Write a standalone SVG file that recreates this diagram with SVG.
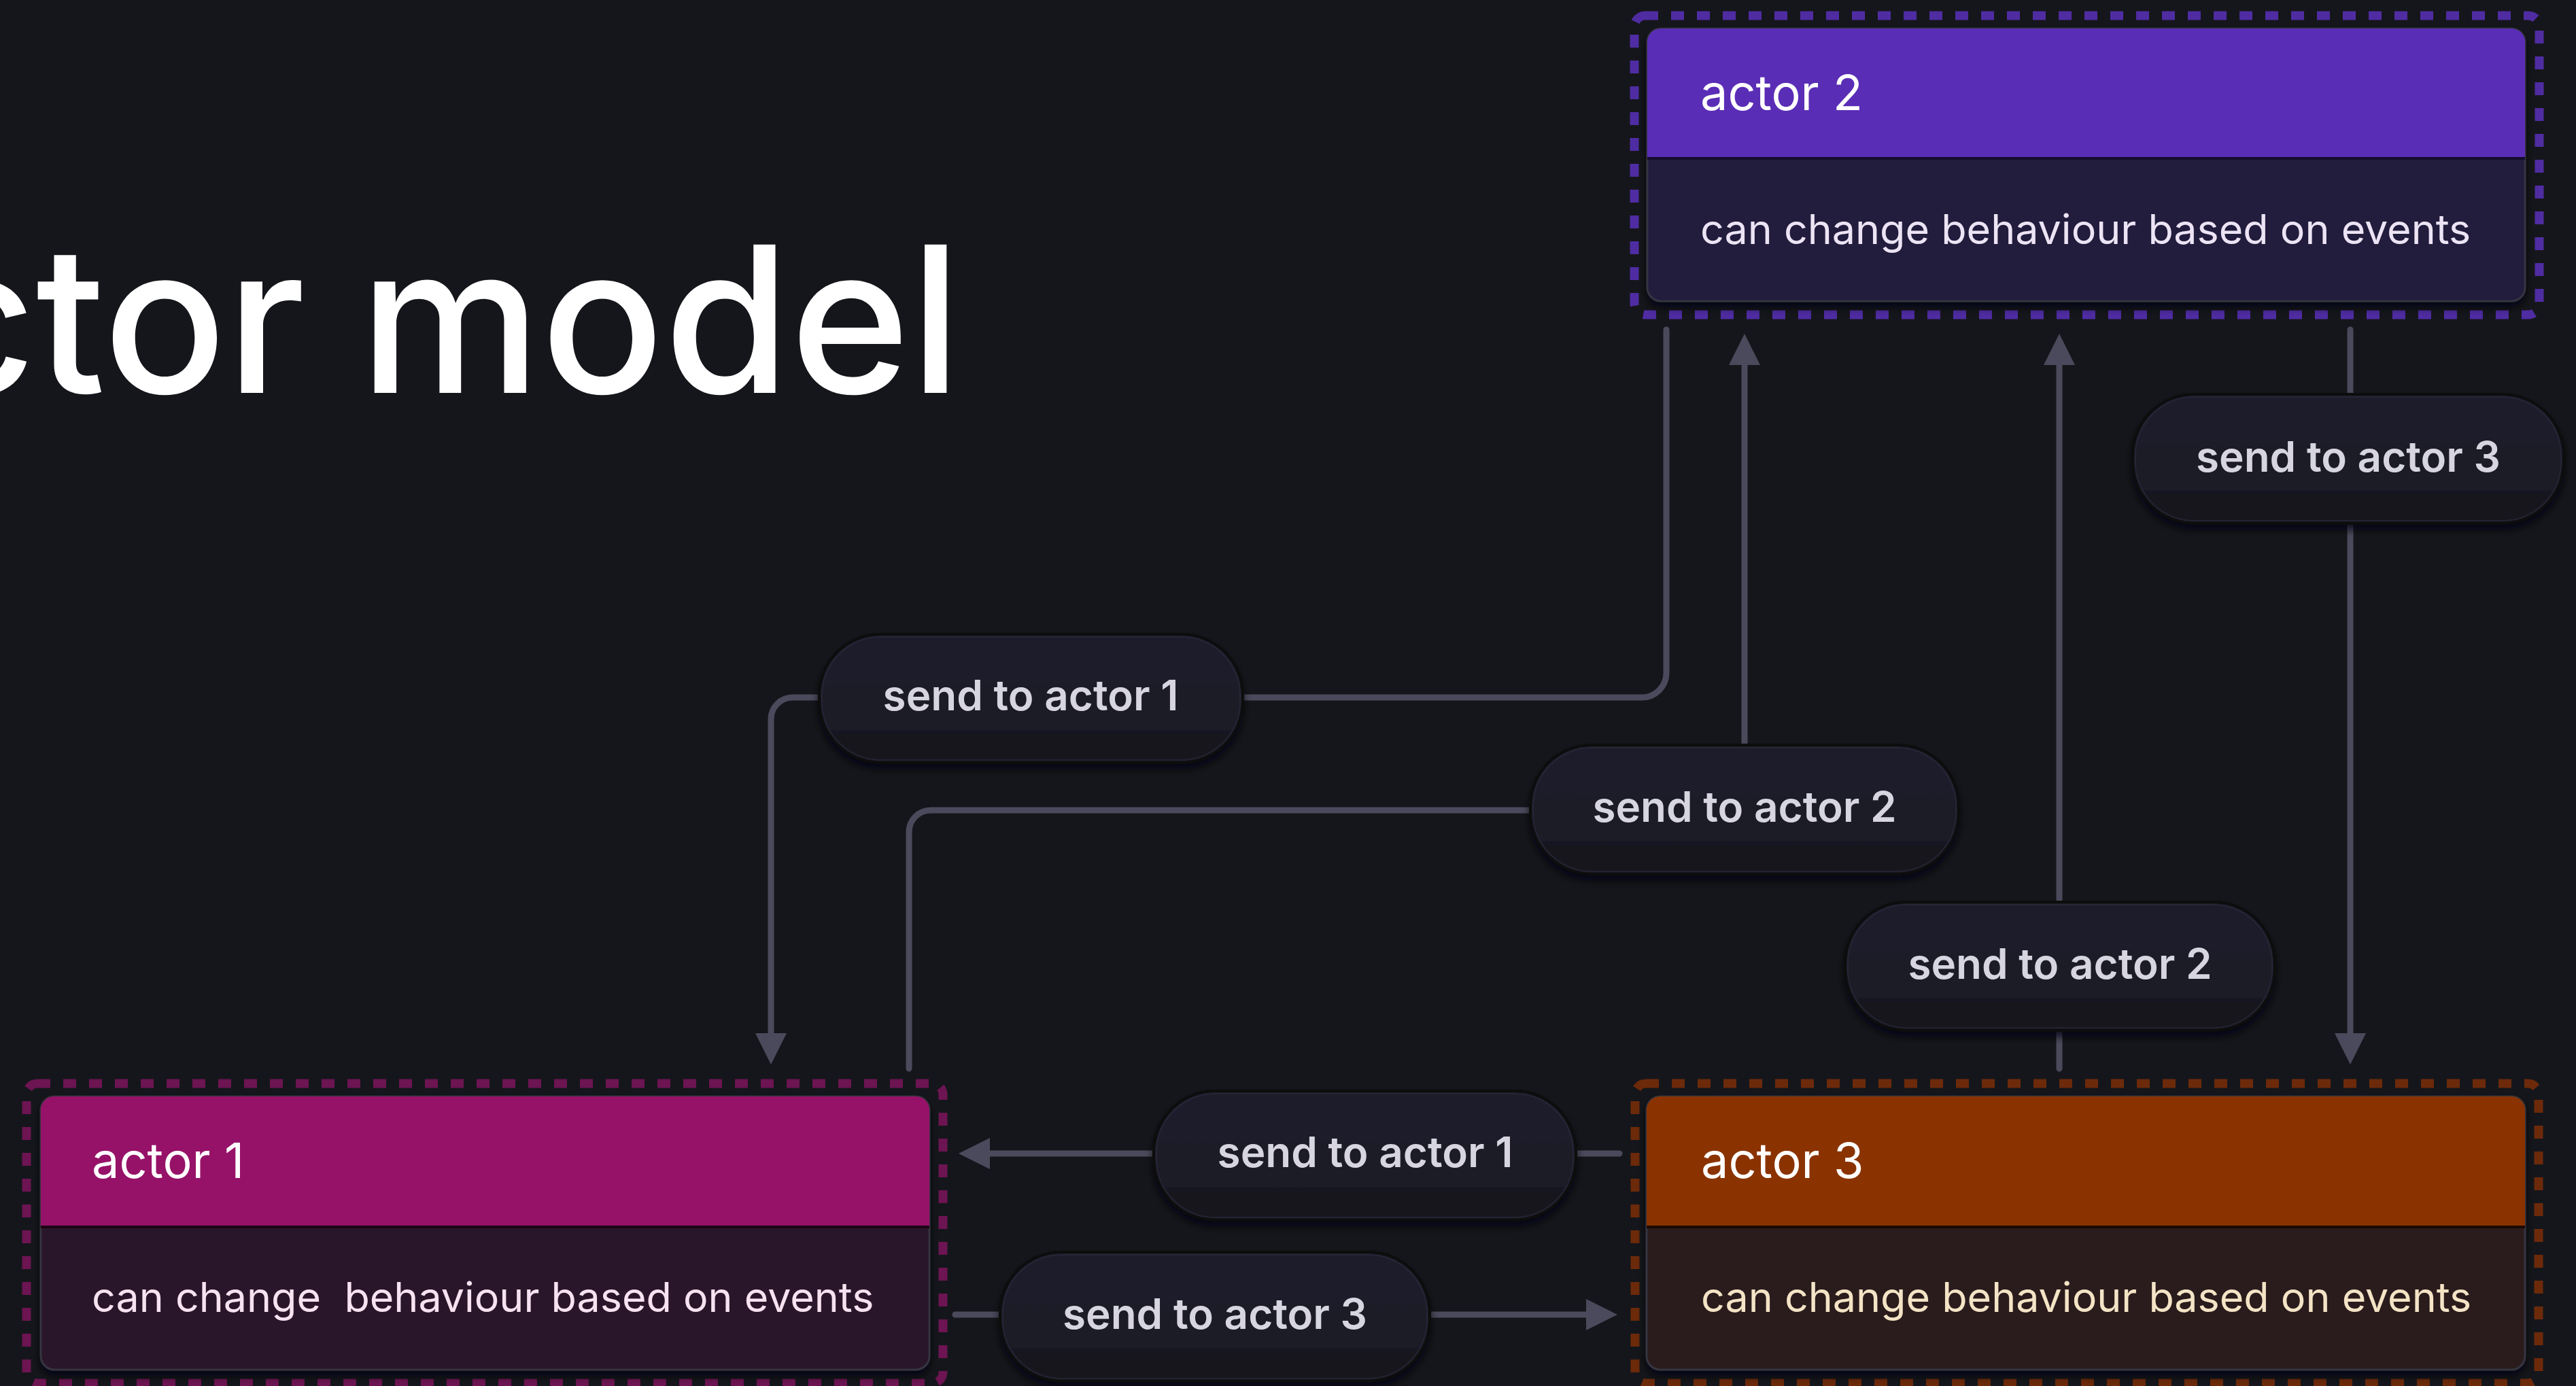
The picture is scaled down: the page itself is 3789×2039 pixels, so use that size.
<svg xmlns="http://www.w3.org/2000/svg" width="3789" height="2039" viewBox="0 0 3789 2039">
  <defs>
    <style>
      text { font-family: Inter, "Liberation Sans", sans-serif; }
      .title { font-size: 300px; font-weight: 500; fill: #ffffff; }
      .hdr { font-size: 72px; font-weight: 400; fill: #ffffff; }
      .desc { font-size: 61px; font-weight: 400; white-space: pre; }
      .pill rect.shape { fill: url(#pillGrad); stroke: #0c0c11; stroke-width: 4; }
      .pill rect.hl { fill: none; stroke: #2b2a39; stroke-width: 2; opacity: 0.7; }
      .pill text { font-size: 62px; font-weight: 600; fill: #d6d5e0; text-anchor: middle; }
      .edge { fill: none; stroke: #4b4a5c; stroke-width: 9; stroke-linecap: round; }
      .frame { fill: none; stroke-width: 13; stroke-dasharray: 19 19; }
      .card { stroke: #35343f; stroke-width: 3; }
    </style>
    <linearGradient id="pillGrad" x1="0" y1="0" x2="0" y2="1">
      <stop offset="0" stop-color="#1d1c2c"/>
      <stop offset="0.74" stop-color="#1a1a26"/>
      <stop offset="0.78" stop-color="#17171f"/>
      <stop offset="1" stop-color="#16161c"/>
    </linearGradient>
    <marker id="arrow" markerUnits="userSpaceOnUse" markerWidth="46" markerHeight="46" viewBox="0 0 46 46" refX="1" refY="23" orient="auto">
      <path d="M0 0 L46 23 L0 46 Z" fill="#4b4a5c"/>
    </marker>
    <filter id="shadow" x="-10%" y="-20%" width="120%" height="150%">
      <feDropShadow dx="0" dy="8" stdDeviation="6" flood-color="#050508" flood-opacity="0.75"/>
    </filter>
  </defs>

  <!-- canvas -->
  <rect x="0" y="0" width="3789" height="2039" fill="#15161b"/>

  <!-- heading -->
  <text class="title" x="1414" y="578" text-anchor="end">ctor model</text>

  <!-- connectors -->
  <g id="connectors">
    <!-- actor 2 -> send to actor 1 -> actor 1 -->
    <path class="edge" d="M2451 485 V990 A36 36 0 0 1 2415 1026 H1828"/>
    <path class="edge" d="M1205 1026 H1166 A32 32 0 0 0 1134 1058 V1521" marker-end="url(#arrow)"/>
    <!-- actor 1 -> send to actor 2 -> actor 2 -->
    <path class="edge" d="M1337 1572 V1224 A32 32 0 0 1 1369 1192 H2251"/>
    <path class="edge" d="M2566 1096 V536" marker-end="url(#arrow)"/>
    <!-- actor 3 -> send to actor 2 -> actor 2 -->
    <path class="edge" d="M3029 1572 V1515"/>
    <path class="edge" d="M3029 1327 V536" marker-end="url(#arrow)"/>
    <!-- actor 2 -> send to actor 3 -> actor 3 -->
    <path class="edge" d="M3457 485 V580"/>
    <path class="edge" d="M3457 770 V1521" marker-end="url(#arrow)"/>
    <!-- actor 3 -> send to actor 1 -> actor 1 -->
    <path class="edge" d="M2382 1697 H2318"/>
    <path class="edge" d="M1697 1697 H1455" marker-end="url(#arrow)"/>
    <!-- actor 1 -> send to actor 3 -> actor 3 -->
    <path class="edge" d="M1405 1934 H1471"/>
    <path class="edge" d="M2103 1934 H2334" marker-end="url(#arrow)"/>
  </g>

  <!-- actor 2 -->
  <g id="actor2">
    <rect class="frame" x="2404" y="23" width="1331" height="440" rx="16" stroke="#4f2ca2"/>
    <rect class="card" x="2423" y="42" width="1291" height="401" rx="20" fill="#221c3c" filter="url(#shadow)"/>
    <path d="M2423 232 V62 A20 20 0 0 1 2443 42 H3694 A20 20 0 0 1 3714 62 V232 Z" fill="#5a2db6"/>
    <rect x="2423" y="231" width="1291" height="4" fill="#140c2c"/>
    <text class="hdr" x="2501" y="162">actor 2</text>
    <text class="desc" x="2501" y="359" fill="#ece4f4">can change behaviour based on events</text>
  </g>

  <!-- actor 1 -->
  <g id="actor1">
    <rect class="frame" x="39" y="1594" width="1348" height="441" rx="16" stroke="#6d1452"/>
    <rect class="card" x="60" y="1613" width="1307" height="402" rx="20" fill="#2a1529" filter="url(#shadow)"/>
    <path d="M60 1804 V1633 A20 20 0 0 1 80 1613 H1347 A20 20 0 0 1 1367 1633 V1804 Z" fill="#961268"/>
    <rect x="60" y="1803" width="1307" height="4" fill="#1c0514"/>
    <text class="hdr" x="135" y="1733">actor 1</text>
    <text class="desc" x="135" y="1930" fill="#f6e2f0">can change  behaviour based on events</text>
  </g>

  <!-- actor 3 -->
  <g id="actor3">
    <rect class="frame" x="2405" y="1594" width="1329" height="441" rx="16" stroke="#6c2a0a"/>
    <rect class="card" x="2422" y="1613" width="1292" height="402" rx="20" fill="#2a1c1c" filter="url(#shadow)"/>
    <path d="M2422 1804 V1633 A20 20 0 0 1 2442 1613 H3694 A20 20 0 0 1 3714 1633 V1804 Z" fill="#8a3300"/>
    <rect x="2422" y="1803" width="1292" height="4" fill="#1c0900"/>
    <text class="hdr" x="2502" y="1733">actor 3</text>
    <text class="desc" x="2502" y="1930" fill="#f4e4c6">can change behaviour based on events</text>
  </g>

  <!-- message nodes -->
  <g id="msg-upper-actor1" class="pill" filter="url(#shadow)">
    <rect class="shape" x="1205" y="933" width="623" height="189" rx="90"/>
    <rect class="hl" x="1209" y="937" width="615" height="181" rx="86"/>
    <text x="1516" y="1045">send to actor 1</text>
  </g>
  <g id="msg-mid-actor2" class="pill" filter="url(#shadow)">
    <rect class="shape" x="2251" y="1096" width="630" height="190" rx="90"/>
    <rect class="hl" x="2255" y="1100" width="622" height="182" rx="86"/>
    <text x="2566" y="1209">send to actor 2</text>
  </g>
  <g id="msg-low-actor2" class="pill" filter="url(#shadow)">
    <rect class="shape" x="2714" y="1327" width="632" height="189" rx="90"/>
    <rect class="hl" x="2718" y="1331" width="624" height="181" rx="86"/>
    <text x="3030" y="1440">send to actor 2</text>
  </g>
  <g id="msg-upper-actor3" class="pill" filter="url(#shadow)">
    <rect class="shape" x="3137" y="580" width="634" height="190" rx="90"/>
    <rect class="hl" x="3141" y="584" width="626" height="182" rx="86"/>
    <text x="3454" y="694">send to actor 3</text>
  </g>
  <g id="msg-bottom-actor1" class="pill" filter="url(#shadow)">
    <rect class="shape" x="1697" y="1605" width="621" height="190" rx="90"/>
    <rect class="hl" x="1701" y="1609" width="613" height="182" rx="86"/>
    <text x="2008" y="1717">send to actor 1</text>
  </g>
  <g id="msg-bottom-actor3" class="pill" filter="url(#shadow)">
    <rect class="shape" x="1471" y="1842" width="632" height="190" rx="90"/>
    <rect class="hl" x="1475" y="1846" width="624" height="182" rx="86"/>
    <text x="1787" y="1955">send to actor 3</text>
  </g>
</svg>
